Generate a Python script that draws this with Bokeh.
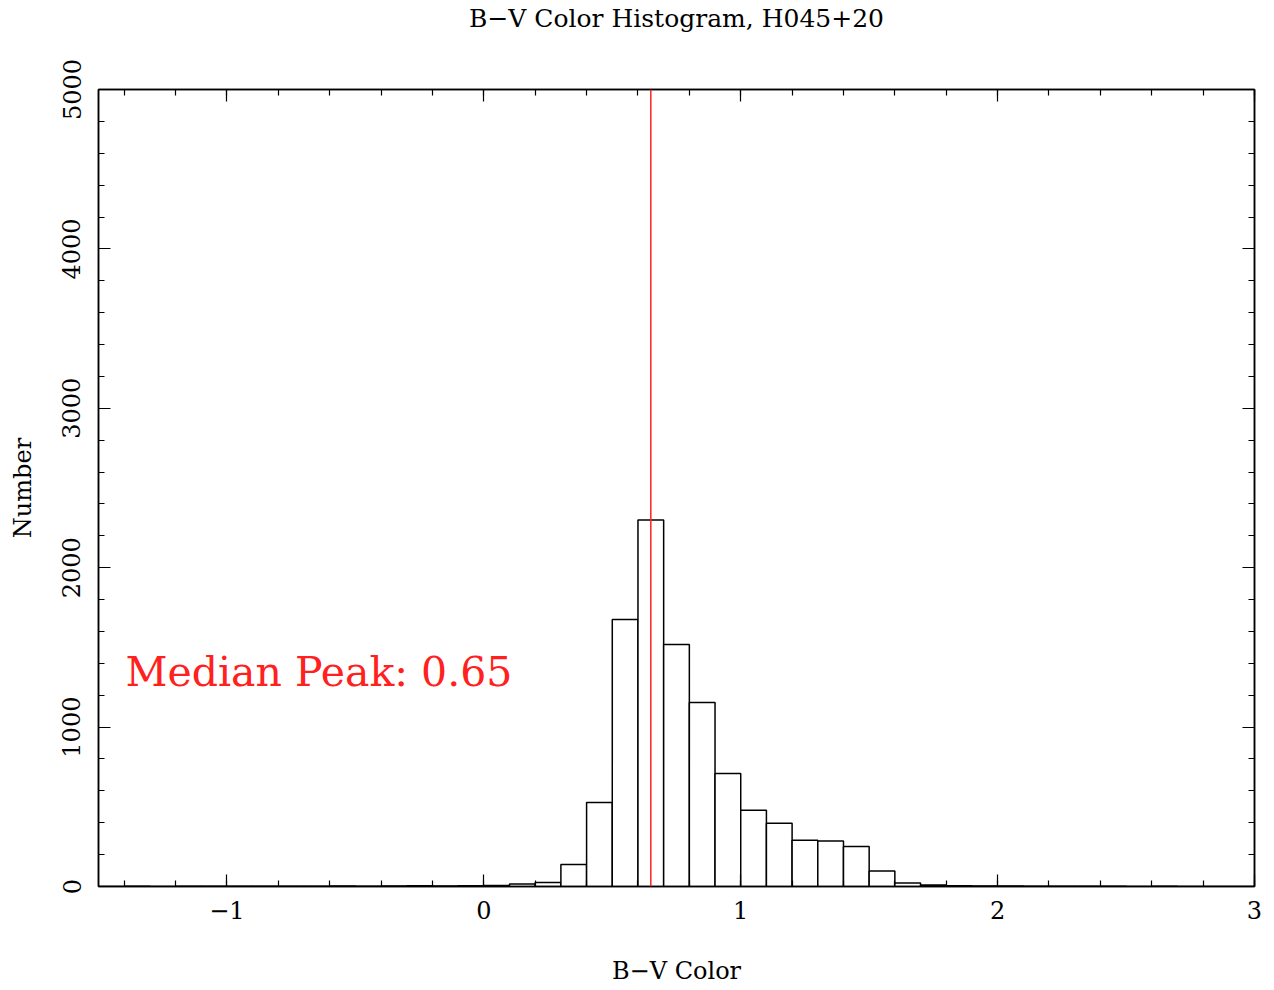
from bokeh.plotting import figure
from bokeh.models import (LinearAxis, SingleIntervalTicker, Span, Label, Range1d,
                          ColumnDataSource, CustomLabelingPolicy)
from bokeh.embed import file_html
from bokeh.resources import INLINE

# ---- data ----
bin_left = [round(-1.5 + 0.1 * i, 1) for i in range(45)]
counts = [0, 1, 0, 1, 1, 2, 1, 2, 2, 3,
          2, 3, 4, 3, 5, 7, 15, 25, 138, 527,
          1675, 2300, 1518, 1154, 709, 479, 397, 290, 286, 251,
          98, 22, 9, 4, 3, 3, 2, 1, 1, 1,
          0, 1, 0, 0, 0]
bin_width = 0.1
median_peak = 0.65
x_ticks = [-1, 0, 1, 2, 3]
x_tick_labels = ["\u22121", "0", "1", "2", "3"]
y_ticks = [0, 1000, 2000, 3000, 4000, 5000]
y_tick_labels = ["0", "1000", "2000", "3000", "4000", "5000"]
title_text = "B\u2212V Color Histogram, H045+20"
x_label = "B\u2212V Color"
y_label = "Number"
annot_text = "Median Peak: %.2f" % median_peak

FONT = "DejaVu Serif"
X_MIN, X_MAX = -1.5, 3
Y_MIN, Y_MAX = 0, 5000

src = ColumnDataSource(dict(
    left=bin_left,
    right=[b + bin_width for b in bin_left],
    top=counts,
    bottom=[0] * len(counts),
))

p = figure(frame_width=1156, frame_height=797,
           x_range=Range1d(X_MIN, X_MAX), y_range=Range1d(Y_MIN, Y_MAX),
           output_backend="svg", toolbar_location=None,
           min_border_left=98, min_border_right=12,
           min_border_top=88, min_border_bottom=97,
           x_axis_type=None, y_axis_type=None, title=None)
p.background_fill_color = "white"
p.border_fill_color = "white"
p.outline_line_color = "black"
p.outline_line_width = 1.5
p.xgrid.visible = False
p.ygrid.visible = False

no_labels = CustomLabelingPolicy(code="return new indices.constructor(indices.size)")

def style_axis(ax, show_labels):
    ax.major_tick_in = 12
    ax.major_tick_out = 0
    ax.minor_tick_in = 6
    ax.minor_tick_out = 0
    ax.axis_line_color = "black"
    ax.axis_line_width = 1.5
    ax.major_tick_line_width = 1.2
    ax.minor_tick_line_width = 1.2
    ax.major_label_text_font = FONT
    ax.axis_label_text_font = FONT
    ax.axis_label_text_font_style = "normal"
    ax.axis_label_text_color = "black"
    ax.major_label_text_color = "black"
    if show_labels:
        ax.major_label_text_font_size = "24px"
        ax.axis_label_text_font_size = "24px"
    else:
        ax.major_label_policy = no_labels
        ax.major_label_text_font_size = "0px"
        ax.major_label_standoff = 0

xt = SingleIntervalTicker(interval=1, num_minor_ticks=5)
yt = SingleIntervalTicker(interval=1000, num_minor_ticks=5)

xb = LinearAxis(ticker=xt, axis_label=x_label)
style_axis(xb, True)
xb.major_label_overrides = {t: l for t, l in zip(x_ticks, x_tick_labels)}
xb.major_label_standoff = 14
xb.axis_label_standoff = 35
p.add_layout(xb, "below")

# top axis: ticks only, carries the chart title as its label
xa = LinearAxis(ticker=SingleIntervalTicker(interval=1, num_minor_ticks=5),
                axis_label=title_text)
style_axis(xa, False)
xa.axis_label_text_font_size = "25px"
xa.axis_label_standoff = 57
p.add_layout(xa, "above")

yl = LinearAxis(ticker=yt, axis_label=y_label)
style_axis(yl, True)
yl.major_label_overrides = {t: l for t, l in zip(y_ticks, y_tick_labels)}
yl.major_label_orientation = "vertical"
yl.major_label_standoff = 18
yl.axis_label_standoff = 23
p.add_layout(yl, "left")

yr = LinearAxis(ticker=SingleIntervalTicker(interval=1000, num_minor_ticks=5))
style_axis(yr, False)
p.add_layout(yr, "right")

p.quad(left="left", right="right", top="top", bottom="bottom", source=src,
       fill_color="white", line_color="black", line_width=1.5)

p.add_layout(Span(location=median_peak, dimension="height",
                  line_color="#ff2020", line_width=1.5))

p.add_layout(Label(x=-1.395, y=1345, text=annot_text, text_color="#ff2020",
                   text_font=FONT, text_font_size="41px",
                   text_baseline="alphabetic", text_align="left"))

open("out.html", "w").write(file_html(p, INLINE))
